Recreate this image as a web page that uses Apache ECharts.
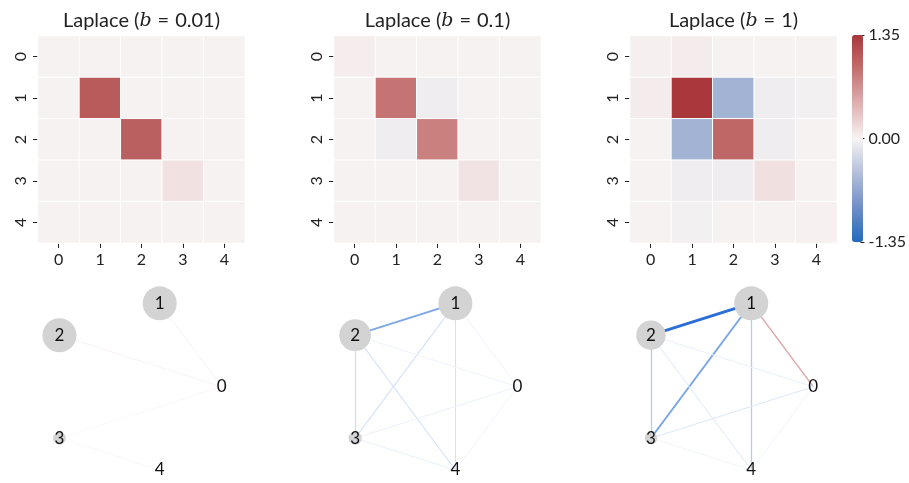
<!DOCTYPE html>
<html>
<head>
<meta charset="utf-8">
<script src="https://cdn.jsdelivr.net/npm/echarts@6/dist/echarts.min.js"></script>
<style>
  html, body { margin: 0; padding: 0; background: #fff; }
  #chart { width: 909px; height: 483px; }
</style>
</head>
<body>
<div id="chart"></div>
<script>
// Node labels (rows / columns of each matrix)
const nodeIds = ['0', '1', '2', '3', '4'];

// Laplace scale parameter of each panel
const scaleLabels = ['0.01', '0.1', '1'];

// Estimated matrices, one per scale (row-major, symmetric)
const matrixB001 = [
  [0.01, 0.01, 0.01, 0.01, 0.01],
  [0.01, 1.07, 0.01, 0.01, 0.01],
  [0.01, 0.01, 1.03, 0.01, 0.01],
  [0.01, 0.01, 0.01, 0.12, 0.01],
  [0.01, 0.01, 0.01, 0.01, 0.01]
];
const matrixB01 = [
  [0.04, 0.01, 0.01, 0.01, 0.01],
  [0.01, 0.87, -0.05, 0.01, 0.01],
  [0.01, -0.05, 0.79, 0.01, 0.01],
  [0.01, 0.01, 0.01, 0.11, 0.01],
  [0.01, 0.01, 0.01, 0.01, 0.01]
];
const matrixB1 = [
  [0.03, 0.05, 0.01, 0.01, 0.01],
  [0.05, 1.35, -0.56, -0.05, -0.03],
  [0.01, -0.56, 0.97, -0.05, 0.01],
  [0.01, -0.05, -0.05, 0.13, 0.01],
  [0.01, -0.03, 0.01, 0.01, 0.02]
];

// Colour scale limits and tick values
const colorTicks = [-1.35, 0, 1.35];

// Node strengths of each network (relative)
const nodeWeightB001 = [0, 1.0, 1.0, 0.14, 0];
const nodeWeightB01 = [0, 1.0, 0.87, 0.15, 0];
const nodeWeightB1 = [0, 1.0, 0.75, 0.13, 0];

// Network edges: [source, target, signed weight]
const edgesB001 = [
  ['1', '0', 0.05], ['2', '0', 0.06], ['3', '0', 0.04], ['3', '4', 0.04]
];
const edgesB01 = [
  ['1', '2', -0.62], ['2', '3', -0.24], ['1', '3', -0.2], ['1', '4', -0.2],
  ['2', '4', -0.2], ['3', '0', -0.09], ['2', '0', -0.08], ['3', '4', -0.1],
  ['1', '0', -0.06], ['0', '4', -0.06]
];
const edgesB1 = [
  ['1', '2', -1.0], ['1', '3', -0.62], ['2', '3', -0.36], ['1', '4', -0.36],
  ['1', '0', 0.45], ['2', '0', -0.1], ['2', '4', -0.14], ['3', '0', -0.15],
  ['3', '4', -0.07], ['0', '4', -0.06]
];

const matrices = [matrixB001, matrixB01, matrixB1];
const nodeWeights = [nodeWeightB001, nodeWeightB01, nodeWeightB1];
const edgeSets = [edgesB001, edgesB01, edgesB1];

const FONT = 'Lato';
const vlag = ['#2369bd', '#6f8fc6', '#b3bfd9', '#f7f3f3', '#dfb1b1', '#c3706f', '#a9373b'];

// layout of the panels
const heatLeft = [38, 334, 630];
const heatTop = 36, heatSize = 207;
const netCenterX = [132, 427.7, 723.5];
const netCenterY = 389, netRadius = 89.7, netSpan = 1.1;

function hexToRgb(h) {
  return [parseInt(h.slice(1, 3), 16), parseInt(h.slice(3, 5), 16), parseInt(h.slice(5, 7), 16)];
}
function mix(a, b, t) {
  const A = hexToRgb(a), B = hexToRgb(b);
  const c = A.map((v, i) => Math.round(v + (B[i] - v) * t));
  return 'rgb(' + c.join(',') + ')';
}
function edgeColor(w) {
  const t = Math.min(1, Math.abs(w));
  return w < 0 ? mix('#ffffff', '#2a6fd6', t) : mix('#ffffff', '#b03a3c', t);
}

const grids = [], xAxes = [], yAxes = [], series = [], titles = [];

// heatmap panels
for (let p = 0; p < 3; p++) {
  grids.push({ left: heatLeft[p], top: heatTop, width: heatSize, height: heatSize });
  xAxes.push({
    type: 'category', gridIndex: p, data: nodeIds, position: 'bottom',
    axisLine: { show: false },
    axisTick: { show: true, alignWithLabel: true, length: 5, lineStyle: { color: '#222', width: 1 } },
    axisLabel: { fontFamily: FONT, fontSize: 16, color: '#222', margin: 9 },
    splitLine: { show: false }
  });
  yAxes.push({
    type: 'category', gridIndex: p, data: nodeIds, inverse: true,
    axisLine: { show: false },
    axisTick: { show: true, alignWithLabel: true, length: 5, lineStyle: { color: '#222', width: 1 } },
    axisLabel: { fontFamily: FONT, fontSize: 16, color: '#222', rotate: 90, margin: 9 },
    splitLine: { show: false }
  });
  const data = [];
  matrices[p].forEach((row, r) => row.forEach((v, c) => data.push([c, r, v])));
  series.push({
    type: 'heatmap', xAxisIndex: p, yAxisIndex: p, data: data,
    itemStyle: { borderColor: '#ffffff', borderWidth: 1 },
    emphasis: { disabled: true }
  });
  titles.push({
    text: 'Laplace ({i|b}{s|=}' + scaleLabels[p] + ')',
    left: heatLeft[p] + heatSize / 2 - 5, top: 6, textAlign: 'center',
    textStyle: {
      fontFamily: FONT, fontSize: 20, fontWeight: 'normal', color: '#222',
      rich: {
        i: { fontFamily: 'DejaVu Serif', fontStyle: 'italic', fontSize: 19, color: '#222' },
        s: { fontFamily: FONT, fontSize: 20, color: '#222', padding: [0, 6, 0, 6] }
      }
    }
  });
}

// colour bar axis
grids.push({ left: 852, top: 35, width: 11, height: 207 });
xAxes.push({ type: 'category', gridIndex: 3, data: [''], show: false });
yAxes.push({
  type: 'value', gridIndex: 3, position: 'right',
  min: colorTicks[0], max: colorTicks[2], interval: colorTicks[2],
  axisLine: { show: false },
  axisTick: { show: true, length: 4, lineStyle: { color: '#222', width: 1 } },
  axisLabel: { fontFamily: FONT, fontSize: 16, color: '#222', margin: 8, formatter: v => v.toFixed(2) },
  splitLine: { show: false }
});

// network panels
for (let p = 0; p < 3; p++) {
  const g = 4 + p;
  grids.push({
    left: netCenterX[p] - netRadius * netSpan, top: netCenterY - netRadius * netSpan,
    width: 2 * netRadius * netSpan, height: 2 * netRadius * netSpan
  });
  xAxes.push({ type: 'value', gridIndex: g, min: -netSpan, max: netSpan, show: false });
  yAxes.push({ type: 'value', gridIndex: g, min: -netSpan, max: netSpan, show: false });
  const nodes = nodeIds.map((id, k) => {
    const a = 2 * Math.PI * k / nodeIds.length;
    return {
      name: id,
      value: [Math.cos(a), Math.sin(a)],
      symbolSize: Math.max(0.1, 34 * Math.sqrt(nodeWeights[p][k]))
    };
  });
  const links = edgeSets[p].map(([s, t, w]) => ({
    source: s, target: t,
    lineStyle: { color: edgeColor(w), width: 1 + 2 * w * w, opacity: 1, curveness: 0 }
  }));
  series.push({
    type: 'graph', coordinateSystem: 'cartesian2d', xAxisIndex: g, yAxisIndex: g,
    layout: 'none', data: nodes, links: links, symbol: 'circle',
    itemStyle: { color: '#d3d3d3' },
    label: { show: true, position: 'inside', fontFamily: FONT, fontSize: 17, color: '#111' },
    emphasis: { disabled: true },
    silent: true
  });
}

const chart = echarts.init(document.getElementById('chart'), null, { renderer: 'canvas' });
chart.setOption({
  backgroundColor: '#ffffff',
  animation: false,
  title: titles,
  grid: grids,
  xAxis: xAxes,
  yAxis: yAxes,
  visualMap: {
    type: 'continuous', seriesIndex: [0, 1, 2],
    min: colorTicks[0], max: colorTicks[2],
    calculable: false, realtime: false, hoverLink: false,
    orient: 'vertical', left: 852, top: 35, padding: 0,
    itemWidth: 11, itemHeight: 207, text: null, showLabel: false,
    inRange: { color: vlag }
  },
  series: series
});
</script>
</body>
</html>
